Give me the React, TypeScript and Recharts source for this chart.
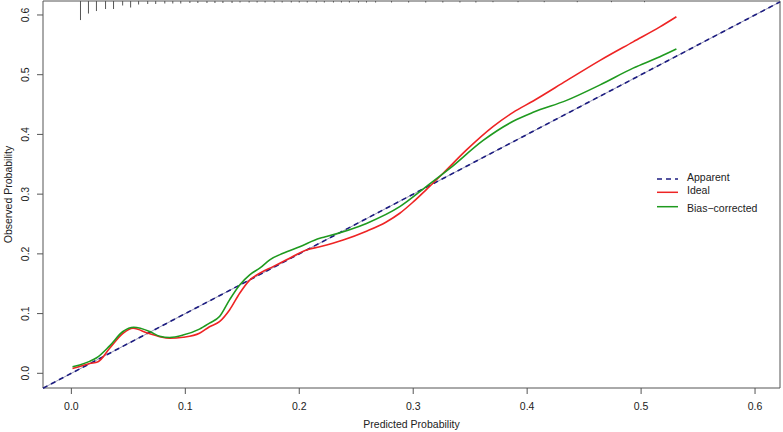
import React from 'react';
import {
  ComposedChart, Line, XAxis, YAxis, ReferenceLine, ReferenceArea, Label,
} from 'recharts';

// ---- data ----
const idealX = [0.001, 0.0073, 0.016, 0.0234, 0.0336, 0.0453, 0.0541, 0.0673, 0.0775, 0.0863, 0.098, 0.1124, 0.1212, 0.13, 0.1388, 0.1477, 0.1565, 0.1653, 0.177, 0.1888, 0.2063, 0.218, 0.2385, 0.259, 0.2760, 0.2882, 0.300, 0.3117, 0.3263, 0.3468, 0.37, 0.3877, 0.4053, 0.4346, 0.464, 0.493, 0.5165, 0.531];
const idealY = [0.008, 0.0114, 0.0164, 0.0194, 0.042, 0.067, 0.0754, 0.067, 0.0613, 0.0586, 0.0603, 0.067, 0.078, 0.0864, 0.106, 0.134, 0.156, 0.1675, 0.1786, 0.19, 0.2065, 0.212, 0.2233, 0.238, 0.253, 0.268, 0.287, 0.308, 0.335, 0.374, 0.413, 0.437, 0.456, 0.49, 0.524, 0.555, 0.58, 0.597];

const biasX = [0.001, 0.0073, 0.016, 0.0222, 0.0336, 0.0453, 0.0547, 0.0687, 0.0775, 0.0863, 0.098, 0.1124, 0.1212, 0.13, 0.1388, 0.1477, 0.1565, 0.1653, 0.1741, 0.1858, 0.2004, 0.218, 0.2239, 0.259, 0.2882, 0.3117, 0.3321, 0.3614, 0.3877, 0.4053, 0.4346, 0.464, 0.493, 0.5165, 0.531];
const biasY = [0.011, 0.014, 0.02, 0.026, 0.046, 0.07, 0.077, 0.07, 0.062, 0.06, 0.064, 0.074, 0.084, 0.095, 0.123, 0.148, 0.165, 0.176, 0.19, 0.201, 0.212, 0.226, 0.229, 0.251, 0.279, 0.313, 0.343, 0.39, 0.422, 0.437, 0.457, 0.483, 0.511, 0.53, 0.543];

// spike histogram of predicted probabilities (top rug)
const rugX = [0.008, 0.015, 0.022, 0.030, 0.037, 0.045, 0.052, 0.059, 0.067, 0.074, 0.082, 0.089, 0.096, 0.104, 0.111, 0.119, 0.126, 0.133, 0.141, 0.148, 0.156, 0.163, 0.170, 0.178, 0.185, 0.193, 0.200, 0.207, 0.215, 0.222, 0.230, 0.237, 0.244, 0.252, 0.259, 0.267, 0.281, 0.296, 0.311, 0.326, 0.341, 0.355, 0.370, 0.392, 0.415, 0.444, 0.474, 0.503];
const rugN = [19, 12.5, 10, 8, 8, 4.5, 6.5, 3.5, 3, 3, 2.5, 2.5, 2.5, 2, 2, 2, 2, 2, 2, 1.5, 1.5, 1.5, 1.5, 1.5, 1.5, 1.5, 1.5, 1.5, 1.5, 1.5, 1.5, 1.5, 1.5, 1.5, 1.5, 1.5, 1.5, 1.5, 1.5, 1.5, 1.5, 1.5, 1.2, 1.2, 1.2, 1.2, 1.2, 1.2];

const xTicks = [0, 0.1, 0.2, 0.3, 0.4, 0.5, 0.6];
const yTicks = [0, 0.1, 0.2, 0.3, 0.4, 0.5, 0.6];
const legendNames = ['Apparent', 'Ideal', 'Bias\u2212corrected'];

// ---- layout / style ----
const X_MIN = -0.0249;
const X_MAX = 0.6219;
const Y_MIN = -0.0246;
const Y_MAX = 0.6234;
const SPIKE_UNIT = 0.00168;
const FONT = '"Liberation Sans", Arial, Helvetica, sans-serif';
const NAVY = '#1c1c80';
const RED = '#ee2424';
const GREEN = '#1f9a1f';
const AXIS = '#555';
const TEXT = '#222';
const FS = 10.5;

const idealData = idealX.map((x, i) => ({ x, y: idealY[i] }));
const biasData = biasX.map((x, i) => ({ x, y: biasY[i] }));

const YTick = (props: any) => {
  const { x, y, payload } = props;
  const x0 = x - 6;
  return (
    <text x={x0} y={y} transform={`rotate(-90, ${x0}, ${y})`} textAnchor="middle"
      fontSize={FS} fill={TEXT} fontFamily={FONT}>
      {Number(payload.value).toFixed(1)}
    </text>
  );
};

const LegendBox = () => {
  const rows = [
    { name: legendNames[0], color: NAVY, dash: '5 4', base: 15.7, ly: 14 },
    { name: legendNames[1], color: RED, dash: undefined, base: 29, ly: 27.3 },
    { name: legendNames[2], color: GREEN, dash: undefined, base: 46.7, ly: 41.7 },
  ];
  return (
    <svg width={130} height={60} style={{ display: 'block' }}>
      {rows.map((r) => (
        <g key={r.name}>
          <line x1={7} x2={28} y1={r.ly} y2={r.ly} stroke={r.color} strokeWidth={1.5}
            strokeDasharray={r.dash} />
          <text x={37} y={r.base} fontSize={FS} fill={TEXT} fontFamily={FONT}>{r.name}</text>
        </g>
      ))}
    </svg>
  );
};

export default function App() {
  return (
    <div style={{ position: 'absolute', left: 0, top: 0, width: 783, height: 432, background: '#fff' }}>
      <ComposedChart width={783} height={432} margin={{ top: 1, right: 3, bottom: 0, left: 0 }}>
        <XAxis type="number" dataKey="x" domain={[X_MIN, X_MAX]} ticks={xTicks} allowDataOverflow
          axisLine={false} tickLine={{ stroke: AXIS }} tickSize={6} tickMargin={9} height={44}
          tick={{ fontSize: FS, fill: TEXT, fontFamily: FONT }}
          tickFormatter={(v: number) => v.toFixed(1)}>
          <Label content={(p: any) => {
            const vb = p.viewBox;
            return (
              <text x={vb.x + vb.width / 2} y={vb.y + 40} textAnchor="middle"
                fontSize={FS} fill={TEXT} fontFamily={FONT}>Predicted Probability</text>
            );
          }} />
        </XAxis>
        <YAxis type="number" dataKey="y" domain={[Y_MIN, Y_MAX]} ticks={yTicks} allowDataOverflow
          width={43} axisLine={false} tickLine={{ stroke: AXIS }} tickSize={6} tick={<YTick />}>
          <Label content={(p: any) => {
            const vb = p.viewBox;
            const cx = 12;
            const cy = vb.y + vb.height / 2;
            return (
              <text x={cx} y={cy} transform={`rotate(-90, ${cx}, ${cy})`} textAnchor="middle"
                fontSize={FS} fill={TEXT} fontFamily={FONT}>Observed Probability</text>
            );
          }} />
        </YAxis>

        <ReferenceArea x1={X_MIN} x2={X_MAX} y1={Y_MIN} y2={Y_MAX} fill="none" fillOpacity={0}
          stroke={AXIS} strokeWidth={1} ifOverflow="visible" />

        {rugX.map((x, i) => (
          <ReferenceLine key={`rug${i}`} ifOverflow="visible" stroke="#555" strokeWidth={1}
            segment={[{ x, y: Y_MAX }, { x, y: Y_MAX - rugN[i] * SPIKE_UNIT }]} />
        ))}

        <ReferenceLine ifOverflow="visible" stroke="#9a9ab8" strokeWidth={1}
          segment={[{ x: X_MIN, y: X_MIN }, { x: X_MAX, y: X_MAX }]} />
        <ReferenceLine ifOverflow="visible" stroke={NAVY} strokeWidth={1.6} strokeDasharray="5 4"
          segment={[{ x: X_MIN, y: X_MIN }, { x: X_MAX, y: X_MAX }]} />

        <Line data={idealData} dataKey="y" name="Ideal" type="monotoneX" stroke={RED} strokeWidth={1.6}
          dot={false} activeDot={false} isAnimationActive={false} />
        <Line data={biasData} dataKey="y" name="Bias-corrected" type="monotoneX" stroke={GREEN} strokeWidth={1.6}
          dot={false} activeDot={false} isAnimationActive={false} />
      </ComposedChart>
      <div style={{ position: 'absolute', left: 650, top: 165 }}>
        <LegendBox />
      </div>
    </div>
  );
}
